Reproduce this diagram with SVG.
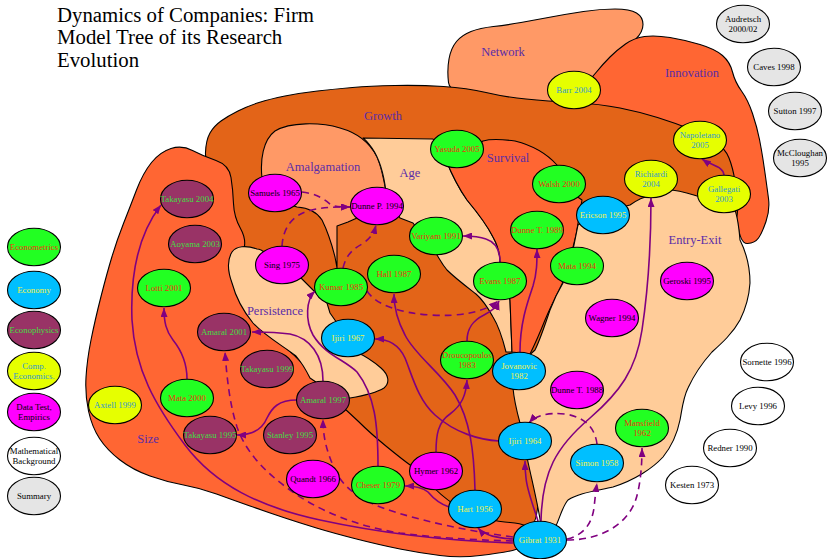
<svg xmlns="http://www.w3.org/2000/svg" width="828" height="559" viewBox="0 0 828 559">
<defs>
<style>
.r{stroke:#000;stroke-width:1.1;stroke-linejoin:round}
.g{fill:#e36418}.o{fill:#ff6633}.s{fill:#ff9966}.p{fill:#ffcc99}
.rl{font-family:"Liberation Serif",serif;font-size:12.5px;fill:#5a2ca8;text-anchor:middle}
.t{font-family:"Liberation Serif",serif;font-size:20.8px;fill:#000}
.n ellipse{stroke:#000;stroke-width:1.1}
.n text{font-family:"Liberation Serif",serif;font-size:8.8px;text-anchor:middle}
.em ellipse{fill:#22ff22}.em text{fill:#ee3311}
.ec ellipse{fill:#00bfff}.ec text{fill:#f2f24a}
.ph ellipse{fill:#993366}.ph text{fill:#44dd44}
.ce ellipse{fill:#e6ff00}.ce text{fill:#3399cc}
.dt ellipse{fill:#ff00ff}.dt text{fill:#000}
.mb ellipse{fill:#fff}.mb text{fill:#000}
.su ellipse{fill:#e5e5e5}.su text{fill:#000}
.e{fill:none;stroke:#800080;stroke-width:1.6;marker-end:url(#a)}
.d{stroke-dasharray:7 5}
</style>
<marker id="a" viewBox="0 0 9 7" refX="9" refY="3.5" markerWidth="9" markerHeight="7" markerUnits="userSpaceOnUse" orient="auto"><path d="M0,0 L9,3.5 L0,7 Z" fill="#800080"/></marker>
</defs>
<rect width="828" height="559" fill="#fff"/>
<g id="title"><text class="t" x="57" y="21.5">Dynamics of Companies: Firm</text><text class="t" x="57" y="44">Model Tree of its Research</text><text class="t" x="57" y="66.5">Evolution</text></g>
<g id="regions">
<path id="network" class="r s" d="M485,100 Q450,95 448.5,82.5 Q447,70 449,59 Q451,48 456.5,41.5 Q462,35 471,31.5 Q480,28 493.5,26.5 Q507,25 521,22.5 Q535,20 551,17 Q567,14 583.5,11.5 Q600,9 615,9 Q630,9 636.5,13 Q643,17 643,24.5 Q643,32 635.5,39.5 Q628,47 618,55 Q608,63 603,71.5 Q598,80 589,91.5 Q580,103 550,104 Q520,105 485,100 Z"/>
<path id="innovation" class="r o" d="M587.5,105 Q575,95 582.5,87.5 Q590,80 596.5,72 Q603,64 610,57 Q617,50 625.5,44 Q634,38 644.5,36.5 Q655,35 670,37.5 Q685,40 700,44.5 Q715,49 722.5,55.5 Q730,62 732.5,72 Q735,82 741.5,91 Q748,100 752.5,113.5 Q757,127 759.5,139.5 Q762,152 764.5,169.5 Q767,187 768.5,198.5 Q770,210 766,221.5 Q762,233 758.5,238 Q755,243 747.5,243.5 Q740,244 737.5,222 Q735,200 717.5,175 Q700,150 650,132.5 Q600,115 587.5,105 Z"/>
<path id="growth" class="r g" d="M213.5,180 Q205,165 205.5,152.5 Q206,140 210,133 Q214,126 221,121 Q228,116 238,111 Q248,106 259,102.5 Q270,99 285,96 Q300,93 317.5,91 Q335,89 352.5,87.5 Q370,86 395,85.5 Q420,85 443.5,86.5 Q467,88 486,92.5 Q505,97 526,99 Q547,101 573.5,102.5 Q600,104 620,108 Q640,112 657.5,117.5 Q675,123 690,129 Q705,135 715,141.5 Q725,148 729,158 Q733,168 735,181.5 Q737,195 737.5,210 Q738,225 719,242.5 Q700,260 632.5,280 Q565,300 552.5,340 Q540,380 540,450 Q540,520 532.5,524 Q525,528 487.5,524 Q450,520 432.5,505 Q415,490 377.5,457.5 Q340,425 310,382.5 Q280,340 259,295 Q238,250 230,222.5 Q222,195 213.5,180 Z"/>
<path id="size" class="r o" d="M171,148.5 Q182,145 192.5,150.5 Q203,156 216,160.5 Q229,165 231,177.5 Q233,190 233.5,203.5 Q234,217 240.5,228.5 Q247,240 243.5,251 Q240,262 242.5,281 Q245,300 257.5,317.5 Q270,335 286.5,348.5 Q303,362 311.5,376 Q320,390 333.5,400 Q347,410 358.5,421.5 Q370,433 386.5,446.5 Q403,460 411.5,466 Q420,472 430,483.5 Q440,495 455,505 Q470,515 485,518.5 Q500,522 510,522.5 Q520,523 527.5,526.5 Q535,530 530,539 Q525,548 512.5,550.5 Q500,553 480,555.5 Q460,558 440,555.5 Q420,553 400,549 Q380,545 356.5,539 Q333,533 316.5,528 Q300,523 283.5,517.5 Q267,512 250,506 Q233,500 216.5,494 Q200,488 183.5,485 Q167,482 150,476 Q133,470 120,460 Q107,450 99.5,438.5 Q92,427 88.5,411 Q85,395 86,377.5 Q87,360 91,340 Q95,320 101,296.5 Q107,273 112,256.5 Q117,240 123.5,223.5 Q130,207 136.5,190 Q143,173 151.5,162.5 Q160,152 171,148.5 Z"/>
<path id="amalgamation" class="r s" d="M262,178 C260,160 263,140 275,131 C290,122 320,122 340,128 C358,133 370,143 377,157 C382,168 384,180 386,192 L357,218 L348,222 L337,226 L337,268 L335,257 C332,245 328,232 322,220 C317,212 310,208 297,207 L262,196 Z"/>
<path id="age" class="r p" d="M363,138 L433,139 L446,160 C452,175 460,190 467,200 C477,212 487,225 493,237 C498,246 500,254 500,262 L510,300 L512,352 L506,352 C503,340 498,325 493,317 C488,308 483,300 476,294 C467,287 455,278 447,270 C442,264 439,258 437,255 L413,223 L400,218 L386,192 C384,175 379,158 372,148 C369,144 366,140 363,138 Z"/>
<path id="survival" class="r o" d="M446,160 C452,175 460,190 467,200 C477,212 487,225 493,237 C498,246 500,254 500,262 L510,300 L512,352 L530,354 C536,342 541,330 545,320 C550,308 556,296 562,284 C568,268 572,252 576,235 L582,200 L559,184 L557,165 C548,155 535,146 515,141 C500,139 490,139 483,141 Z"/>
<path id="entry-exit" class="r p" d="M578,225 L603,212 L630,205 C637,200 642,197 650,196 L668,190 C680,190 690,194 700,197 L733,205 C738,215 739,228 740,240 C745,250 750,265 750,283 C749,298 745,310 740,320 C733,333 722,343 712,352 C703,362 694,375 688,388 C683,398 682,410 680,420 C677,435 671,447 663,457 C653,468 635,480 613,487 C595,491 578,493 568,500 C562,507 560,518 555,528 L541,525 C538,505 533,485 528,462 L520,423 C517,412 514,400 513,388 L524,360 L535,350 C540,340 544,328 550,310 C555,297 560,288 563,283 C567,270 571,256 574,245 Z"/>
<path id="persistence" class="r p" d="M257,249 C246,245 236,246 232,252 C227,260 228,272 232,283 C236,298 244,312 253,323 C265,336 283,346 296,356 C302,363 306,370 310,378 L335,395 L350,398 C362,396 376,393 384,388 C390,383 389,375 381,368 C373,361 363,355 356,352 L337,323 L330,313 L327,303 L313,290 L300,277 L280,270 L265,253 C262,250 260,249 257,249 Z"/>
</g>
<g id="region-labels">
<text class="rl" x="503" y="56">Network</text>
<text class="rl" x="692" y="77">Innovation</text>
<text class="rl" x="383" y="120">Growth</text>
<text class="rl" x="323" y="171">Amalgamation</text>
<text class="rl" x="410" y="177">Age</text>
<text class="rl" x="508" y="162">Survival</text>
<text class="rl" x="695" y="244">Entry-Exit</text>
<text class="rl" x="275" y="315">Persistence</text>
<text class="rl" x="148" y="443">Size</text>
</g>
<g id="connectors">
<path class="e d" d="M302,192 C318,194 325,200 330,204 C335,207 341,207 350,207"/>
<path class="e d" d="M282,246 C283,228 292,216 308,211 C322,207 336,207 350,207"/>
<path class="e d" d="M343,268 C346,255 353,249 362,244 C370,239 374,233 376,225"/>
<path class="e d" d="M367,291 C376,305 400,313 430,315 C460,317 485,312 498,301"/>
<path class="e" d="M467,341 C467,327 474,320 484,315 C492,311 497,307 499,301"/>
<path class="e" d="M500,262 C500,250 495,242 486,239 C478,236 472,236 463,236"/>
<path class="e" d="M520,352 C520,322 528,301 533,286 C537,273 537,262 537,249"/>
<path class="e" d="M541,521 C542,472 556,447 590,418 C620,392 636,370 642,330 C648,290 651,240 651,198"/>
<path class="e" d="M724,175 C723,166 712,166 702,159"/>
<path class="e d" d="M597,444 C595,428 585,417 565,414 C547,412 535,416 529,423"/>
<path class="e d" d="M567,539 C585,535 592,522 594,508 C595,498 596,490 597,483"/>
<path class="e d" d="M567,540 C600,540 625,526 635,502 C640,488 642,468 642,448"/>
<path class="e" d="M538,521 C533,505 527,490 526,478 C525,470 525,466 525,461"/>
<path class="e" d="M513,539 C498,538 485,536 478,528"/>
<path class="e" d="M449,507 C440,504 433,498 428,492 C422,487 415,486 405,486"/>
<path class="e" d="M436,452 C436,435 438,422 450,414 C462,405 466,395 467,380"/>
<path class="e" d="M475,490 C474,450 470,420 455,395 C440,372 415,355 405,335 C397,320 394,308 394,294"/>
<path class="e" d="M499,441 C480,440 455,433 435,415 C418,400 412,375 405,358 C400,347 392,339 375,339"/>
<path class="e" d="M378,466 C378,425 375,395 357,372 C345,360 325,355 313,335 C305,320 306,300 315,291"/>
<path class="e" d="M323,381 C323,355 310,338 290,334 C275,332 265,332 252,332"/>
<path class="e" d="M297,400 C278,400 272,408 267,418 C262,430 252,435 237,435"/>
<path class="e d" d="M513,537 C470,531 430,523 395,512 C365,503 345,490 336,472 C328,455 323,440 323,419"/>
<path class="e d" d="M513,541 C470,540 430,537 400,533 C360,527 320,512 290,490 C262,470 245,450 237,427 C230,405 227,380 225,352"/>
<path class="e" d="M513,543 C450,541 380,533 320,520 C260,507 215,485 185,445 C155,405 135,370 132,320 C130,270 140,232 161,205"/>
<path class="e" d="M187,379 C187,362 181,350 173,340 C166,331 164,322 164,308"/>
</g>
<g id="legend-econometrics" class="n em"><ellipse cx="34" cy="247" rx="26.5" ry="18.8"/><text x="34" y="250">Econometrics</text></g>
<g id="legend-economy" class="n ec"><ellipse cx="34" cy="290" rx="26.5" ry="18.8"/><text x="34" y="293">Economy</text></g>
<g id="legend-econophysics" class="n ph"><ellipse cx="34" cy="330" rx="26.5" ry="18.8"/><text x="34" y="333">Econophysics</text></g>
<g id="legend-comp-economics" class="n ce"><ellipse cx="34" cy="371" rx="26.5" ry="18.8"/><text x="34" y="369">Comp.</text><text x="34" y="379">Economics.</text></g>
<g id="legend-data-test" class="n dt"><ellipse cx="34" cy="412" rx="26.5" ry="18.8"/><text x="34" y="410">Data Test,</text><text x="34" y="420">Empirics</text></g>
<g id="legend-math" class="n mb"><ellipse cx="34" cy="456" rx="26.5" ry="18.8"/><text x="34" y="454">Mathematical</text><text x="34" y="464">Background</text></g>
<g id="legend-summary" class="n su"><ellipse cx="34" cy="496" rx="26.5" ry="18.8"/><text x="34" y="499">Summary</text></g>
<g id="takayasu2004" class="n ph"><ellipse cx="187" cy="199" rx="26.5" ry="18.8"/><text x="187" y="202">Takayasu 2004</text></g>
<g id="aoyama2003" class="n ph"><ellipse cx="195" cy="244" rx="26.5" ry="18.8"/><text x="195" y="247">Aoyama 2003</text></g>
<g id="lotti2001" class="n em"><ellipse cx="164" cy="288" rx="26.5" ry="18.8"/><text x="164" y="291">Lotti 2001</text></g>
<g id="amaral2001" class="n ph"><ellipse cx="224" cy="332" rx="26.5" ry="18.8"/><text x="224" y="335">Amaral 2001</text></g>
<g id="takayasu1999" class="n ph"><ellipse cx="267" cy="369" rx="26.5" ry="18.8"/><text x="267" y="372">Takayasu 1999</text></g>
<g id="mata2000" class="n em"><ellipse cx="187" cy="398" rx="26.5" ry="18.8"/><text x="187" y="401">Mata 2000</text></g>
<g id="axtell1999" class="n ce"><ellipse cx="115" cy="405" rx="26.5" ry="18.8"/><text x="115" y="408">Axtell 1999</text></g>
<g id="takayasu1995" class="n ph"><ellipse cx="210" cy="435" rx="26.5" ry="18.8"/><text x="210" y="438">Takayasu 1995</text></g>
<g id="stanley1995" class="n ph"><ellipse cx="290" cy="435" rx="26.5" ry="18.8"/><text x="290" y="438">Stanley 1995</text></g>
<g id="amaral1997" class="n ph"><ellipse cx="323" cy="400" rx="26.5" ry="18.8"/><text x="323" y="403">Amaral 1997</text></g>
<g id="quandt1966" class="n dt"><ellipse cx="313" cy="479" rx="26.5" ry="18.8"/><text x="313" y="482">Quandt 1966</text></g>
<g id="cheser1979" class="n em"><ellipse cx="378" cy="485" rx="26.5" ry="18.8"/><text x="378" y="488">Cheser 1979</text></g>
<g id="hymer1962" class="n dt"><ellipse cx="436" cy="471" rx="26.5" ry="18.8"/><text x="436" y="474">Hymer 1962</text></g>
<g id="hart1956" class="n ec"><ellipse cx="475" cy="509" rx="26.5" ry="18.8"/><text x="475" y="512">Hart 1956</text></g>
<g id="gibrat1931" class="n ec"><ellipse cx="540" cy="540" rx="26.5" ry="18.8"/><text x="540" y="543">Gibrat 1931</text></g>
<g id="ijiri1964" class="n ec"><ellipse cx="525" cy="441" rx="26.5" ry="18.8"/><text x="525" y="444">Ijiri 1964</text></g>
<g id="simon1958" class="n ec"><ellipse cx="597" cy="463" rx="26.5" ry="18.8"/><text x="597" y="466">Simon 1958</text></g>
<g id="mansfield1962" class="n em"><ellipse cx="642" cy="428" rx="26.5" ry="18.8"/><text x="642" y="426">Mansfield</text><text x="642" y="436">1962</text></g>
<g id="jovanovic1982" class="n ec"><ellipse cx="519" cy="371" rx="26.5" ry="18.8"/><text x="519" y="369">Jovanovic</text><text x="519" y="379">1982</text></g>
<g id="droucopoulos1983" class="n em"><ellipse cx="467" cy="360" rx="26.5" ry="18.8"/><text x="467" y="358">Droucopoulos</text><text x="467" y="368">1983</text></g>
<g id="dunnet1988" class="n dt"><ellipse cx="577" cy="390" rx="26.5" ry="18.8"/><text x="577" y="393">Dunne T. 1988</text></g>
<g id="ijiri1967" class="n ec"><ellipse cx="348" cy="338" rx="26.5" ry="18.8"/><text x="348" y="341">Ijiri 1967</text></g>
<g id="kumar1985" class="n em"><ellipse cx="341" cy="287" rx="26.5" ry="18.8"/><text x="341" y="290">Kumar 1985</text></g>
<g id="hall1987" class="n em"><ellipse cx="394" cy="274" rx="26.5" ry="18.8"/><text x="394" y="277">Hall 1987</text></g>
<g id="evans1987" class="n em"><ellipse cx="500" cy="281" rx="26.5" ry="18.8"/><text x="500" y="284">Evans 1987</text></g>
<g id="variyam1991" class="n em"><ellipse cx="436" cy="236" rx="26.5" ry="18.8"/><text x="436" y="239">Variyam 1991</text></g>
<g id="dunnep1994" class="n dt"><ellipse cx="377" cy="206" rx="26.5" ry="18.8"/><text x="377" y="209">Dunne P. 1994</text></g>
<g id="samuels1965" class="n dt"><ellipse cx="275" cy="193" rx="26.5" ry="18.8"/><text x="275" y="196">Samuels 1965</text></g>
<g id="sing1975" class="n dt"><ellipse cx="282" cy="265" rx="26.5" ry="18.8"/><text x="282" y="268">Sing 1975</text></g>
<g id="yasuda2005" class="n em"><ellipse cx="457" cy="149" rx="26.5" ry="18.8"/><text x="457" y="152">Yasuda 2005</text></g>
<g id="walsh2000" class="n em"><ellipse cx="559" cy="184" rx="26.5" ry="18.8"/><text x="559" y="187">Walsh 2000</text></g>
<g id="dunnet1989" class="n em"><ellipse cx="537" cy="230" rx="26.5" ry="18.8"/><text x="537" y="233">Dunne T. 1989</text></g>
<g id="mata1994" class="n em"><ellipse cx="577" cy="266" rx="26.5" ry="18.8"/><text x="577" y="269">Mata 1994</text></g>
<g id="ericson1995" class="n ec"><ellipse cx="603" cy="215" rx="26.5" ry="18.8"/><text x="603" y="218">Ericson 1995</text></g>
<g id="richiardi2004" class="n ce"><ellipse cx="651" cy="179" rx="26.5" ry="18.8"/><text x="651" y="177">Richiardi</text><text x="651" y="187">2004</text></g>
<g id="gallegati2003" class="n ce"><ellipse cx="724" cy="194" rx="26.5" ry="18.8"/><text x="724" y="192">Gallegati</text><text x="724" y="202">2003</text></g>
<g id="napoletano2005" class="n ce"><ellipse cx="700" cy="140" rx="26.5" ry="18.8"/><text x="700" y="138">Napoletano</text><text x="700" y="148">2005</text></g>
<g id="barr2004" class="n ce"><ellipse cx="574" cy="90" rx="26.5" ry="18.8"/><text x="574" y="93">Barr 2004</text></g>
<g id="geroski1995" class="n dt"><ellipse cx="687" cy="281" rx="26.5" ry="18.8"/><text x="687" y="284">Geroski 1995</text></g>
<g id="wagner1994" class="n dt"><ellipse cx="612" cy="318" rx="26.5" ry="18.8"/><text x="612" y="321">Wagner 1994</text></g>
<g id="audretsch" class="n su"><ellipse cx="743" cy="24" rx="26.5" ry="18.8"/><text x="743" y="22">Audretsch</text><text x="743" y="32">2000/02</text></g>
<g id="caves1998" class="n su"><ellipse cx="774" cy="67" rx="26.5" ry="18.8"/><text x="774" y="70">Caves 1998</text></g>
<g id="sutton1997" class="n su"><ellipse cx="795" cy="111" rx="26.5" ry="18.8"/><text x="795" y="114">Sutton 1997</text></g>
<g id="mccloughan1995" class="n su"><ellipse cx="800" cy="158" rx="26.5" ry="18.8"/><text x="800" y="156">McCloughan</text><text x="800" y="166">1995</text></g>
<g id="sornette1996" class="n mb"><ellipse cx="767" cy="362" rx="26.5" ry="18.8"/><text x="767" y="365">Sornette 1996</text></g>
<g id="levy1996" class="n mb"><ellipse cx="758" cy="406" rx="26.5" ry="18.8"/><text x="758" y="409">Levy 1996</text></g>
<g id="redner1990" class="n mb"><ellipse cx="730" cy="448" rx="26.5" ry="18.8"/><text x="730" y="451">Redner 1990</text></g>
<g id="kesten1973" class="n mb"><ellipse cx="692" cy="485" rx="26.5" ry="18.8"/><text x="692" y="488">Kesten 1973</text></g>
</svg>
